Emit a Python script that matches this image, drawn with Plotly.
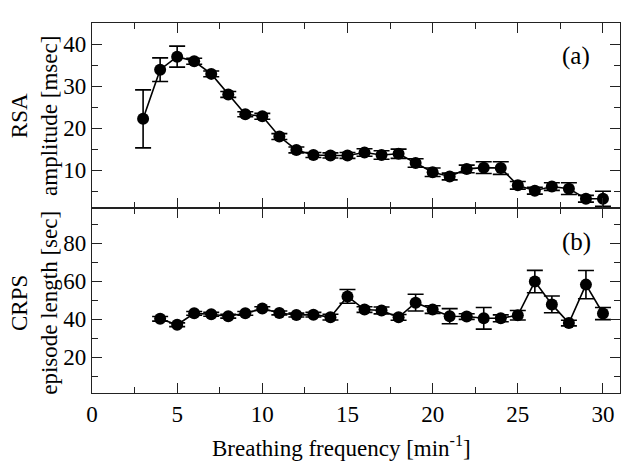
import plotly.graph_objects as go
from plotly.subplots import make_subplots

# breathing frequency [1/min]
freq_rsa = [3, 4, 5, 6, 7, 8, 9, 10, 11, 12, 13, 14, 15, 16, 17, 18, 19, 20, 21, 22, 23, 24, 25, 26, 27, 28, 29, 30]
rsa_amp = [22.2, 33.9, 37.0, 35.9, 32.9, 28.0, 23.3, 22.8, 18.0, 14.8, 13.6, 13.5, 13.5, 14.2,
           13.6, 13.9, 11.7, 9.5, 8.5, 10.3, 10.6, 10.5, 6.4, 5.1, 6.1, 5.6, 3.2, 3.2]
rsa_err = [6.9, 2.8, 2.5, 0.7, 0.7, 0.7, 0.6, 0.7, 0.7, 0.7, 0.6, 0.6, 0.7, 0.9,
           1.0, 1.1, 1.0, 1.0, 0.8, 0.9, 1.4, 1.5, 0.9, 0.8, 0.9, 1.4, 0.8, 1.8]

freq_crps = [4, 5, 6, 7, 8, 9, 10, 11, 12, 13, 14, 15, 16, 17, 18, 19, 20, 21, 22, 23, 24, 25, 26, 27, 28, 29, 30]
crps_len = [40.2, 37.1, 43.1, 42.6, 41.6, 43.1, 45.6, 43.3, 42.2, 42.4, 41.1, 52.0, 45.1,
            44.6, 41.0, 48.7, 45.1, 41.6, 41.4, 40.5, 40.5, 42.1, 59.8, 47.8, 38.0, 58.2, 43.0]
crps_err = [1.2, 1.0, 1.0, 1.0, 1.0, 1.0, 1.0, 1.0, 1.0, 1.2, 1.5, 3.6, 1.5,
            1.8, 1.5, 4.4, 2.0, 4.0, 1.5, 5.7, 1.8, 2.5, 5.9, 4.4, 1.5, 7.4, 3.2]

FONT = "Liberation Serif"
LINE = "#222222"

fig = make_subplots(rows=2, cols=1, shared_xaxes=True, vertical_spacing=0)

def add_series(x, y, err, row):
    fig.add_trace(go.Scatter(
        x=x, y=y, mode="lines+markers",
        line=dict(color="black", width=1.6),
        marker=dict(color="black", size=12),
        error_y=dict(type="data", array=err, visible=True, color="black",
                     thickness=1.6, width=8),
        showlegend=False,
    ), row=row, col=1)

add_series(freq_rsa, rsa_amp, rsa_err, 1)
add_series(freq_crps, crps_len, crps_err, 2)

axis_style = dict(showline=True, linecolor=LINE, linewidth=1.2, mirror="allticks",
                  ticks="inside", ticklen=10, tickcolor=LINE, showgrid=False, zeroline=False,
                  tickfont=dict(family=FONT, size=23, color="black"))

fig.update_xaxes(range=[0, 31], tickvals=[0, 5, 10, 15, 20, 25, 30],
                 minor=dict(ticks="inside", dtick=2.5, tick0=0, ticklen=6, tickcolor=LINE),
                 **axis_style)
fig.update_yaxes(range=[1, 45], tickvals=[10, 20, 30, 40],
                 minor=dict(ticks="inside", dtick=5, tick0=0, ticklen=6, tickcolor=LINE),
                 row=1, col=1, **axis_style)
fig.update_yaxes(range=[1.2, 98.5], tickvals=[20, 40, 60, 80],
                 minor=dict(ticks="inside", dtick=10, tick0=0, ticklen=6, tickcolor=LINE),
                 row=2, col=1, **axis_style)

txt = dict(family=FONT, size=23, color="black")
annotations = [
    dict(text="RSA<br>amplitude [msec]", x=-0.109, y=0.75, textangle=-90),
    dict(text="CRPS<br>episode length [sec]", x=-0.109, y=0.245, textangle=-90),
    dict(text="Breathing frequency [min<sup>-1</sup>]", x=0.473, y=-0.145),
    dict(text="(a)", x=0.917, y=0.912, font=dict(family=FONT, size=25, color="black")),
    dict(text="(b)", x=0.917, y=0.408, font=dict(family=FONT, size=25, color="black")),
]
for a in annotations:
    a.setdefault("font", txt)
    fig.add_annotation(xref="paper", yref="paper", showarrow=False,
                       xanchor="center", yanchor="middle", **a)

# the page body adds an 8px offset, so margins compensate for it
fig.update_layout(width=632, height=463, margin=dict(l=84, r=20, t=15, b=78),
                  plot_bgcolor="white", paper_bgcolor="white")

fig.write_html("out.html")
